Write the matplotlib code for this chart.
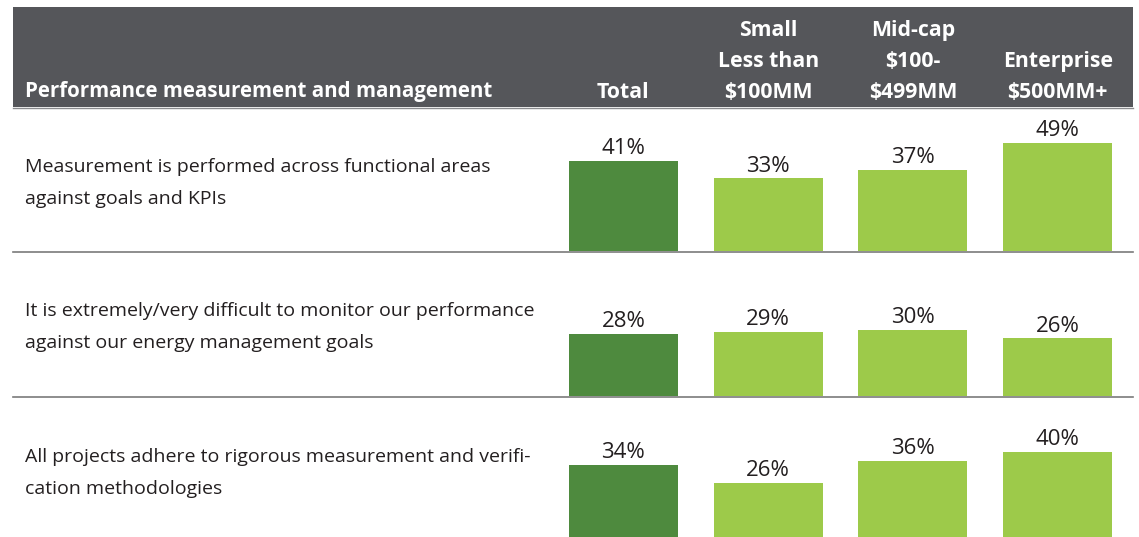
import matplotlib.pyplot as plt
from matplotlib.patches import Rectangle
from matplotlib.lines import Line2D

# survey data, percent agreeing
groups = ['Total', 'Small\nLess than\n$100MM', 'Mid-cap\n$100-\n$499MM', 'Enterprise\n$500MM+']
statements = [
    'Measurement is performed across functional areas\nagainst goals and KPIs',
    'It is extremely/very difficult to monitor our performance\nagainst our energy management goals',
    'All projects adhere to rigorous measurement and verifi-\ncation methodologies',
]
row1 = [41, 33, 37, 49]
row2 = [28, 29, 30, 26]
row3 = [34, 26, 36, 40]
rows = [row1, row2, row3]
header_title = 'Performance measurement and management'

W, H = 1139, 537
dark = '#4e8a3e'
light = '#9dca4a'
header_col = '#55565a'
txt_col = '#231f20'
plt.rcParams['font.family'] = ['Open Sans', 'DejaVu Sans']

fig = plt.figure(figsize=(W / 100, H / 100), dpi=100)
fig.patch.set_facecolor('white')


def fx(px):
    return px / W


def fy(py):
    return 1 - py / H


# header band
fig.patches.append(Rectangle((fx(13), fy(107)), fx(1133) - fx(13), fy(7) - fy(107),
                             transform=fig.transFigure, facecolor=header_col,
                             edgecolor='none', zorder=0))
fig.add_artist(Line2D([fx(13), fx(1133)], [fy(107.5), fy(107.5)], color='#8a8b8e', lw=1))
fig.text(fx(25), fy(91), header_title, color='white', fontsize=14.8,
         fontweight='bold', ha='left', va='center')

px_per_pct = 2.2
ax_left, ax_right = 551, 1130
ax_h = 140
baselines = [251, 395.5, 540]
label_y = [183, 327, 473]

for k, (vals, base) in enumerate(zip(rows, baselines)):
    ax = fig.add_axes([fx(ax_left), fy(base), fx(ax_right) - fx(ax_left), ax_h / H])
    cols = [dark] + [light] * (len(vals) - 1)
    ax.bar(range(len(vals)), vals, width=0.752, color=cols)
    ax.set_xlim(-0.5, len(vals) - 0.5)
    ax.set_ylim(0, ax_h / px_per_pct)
    for i, v in enumerate(vals):
        ax.text(i, v + 0.8, f'{v}%', ha='center', va='bottom', fontsize=16, color=txt_col)
    ax.axis('off')
    ax.patch.set_alpha(0)
    fig.text(fx(25), fy(label_y[k]), statements[k], ha='left', va='center',
             fontsize=14, color=txt_col, linespacing=2.0)

    # column headers, placed with the first axes' x scale
    if k == 0:
        for i, g in enumerate(groups):
            x_disp = ax.transData.transform((i, 0))[0]
            fig.text(x_disp / W, fy(103), g, color='white', fontsize=15.3,
                     fontweight='bold', ha='center', va='bottom',
                     linespacing=1.63)

for py in [252, 397]:
    fig.add_artist(Line2D([fx(13), fx(1133)], [fy(py), fy(py)], color='#7a7a7a', lw=1.2))

fig.savefig('out.png', dpi=100)
